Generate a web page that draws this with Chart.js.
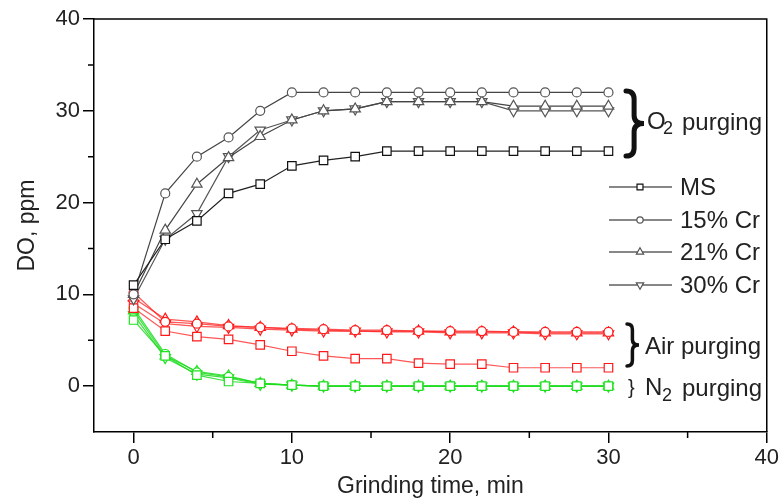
<!DOCTYPE html>
<html>
<head>
<meta charset="utf-8">
<script src="https://cdn.jsdelivr.net/npm/chart.js@4.4.1/dist/chart.umd.min.js"></script>
<style>
  body { margin: 0; background: #fff; }
  #wrap { width: 781px; height: 503px; }
</style>
</head>
<body>
<div id="wrap"><canvas id="doChart" width="781" height="503"></canvas></div>
<script>
// grinding time, min
const grindTime = [0, 2, 4, 6, 8, 10, 12, 14, 16, 18, 20, 22, 24, 26, 28, 30];

// O2 purging
const o2MS    = [11, 16, 18, 21, 22, 24, 24.6, 25, 25.6, 25.6, 25.6, 25.6, 25.6, 25.6, 25.6, 25.6];
const o2Cr15  = [10, 21, 25, 27.1, 30, 32, 32, 32, 32, 32, 32, 32, 32, 32, 32, 32];
const o2Cr21  = [10, 17, 22, 24.9, 27.2, 29, 30, 30.2, 31, 31, 31, 31, 30.5, 30.5, 30.5, 30.5];
const o2Cr30  = [9.5, 16, 18.8, 25, 27.9, 29, 30, 30.2, 31, 31, 31, 31, 30, 30, 30, 30];

// Air purging
const airMS   = [8.5, 6.0, 5.4, 5.1, 4.5, 3.8, 3.3, 3.0, 3.0, 2.5, 2.4, 2.4, 2.0, 2.0, 2.0, 2.0];
const airCr15 = [10.2, 7.0, 6.8, 6.5, 6.4, 6.3, 6.2, 6.1, 6.1, 6.0, 6.0, 6.0, 5.9, 5.9, 5.9, 5.9];
const airCr21 = [9.6, 7.3, 7.0, 6.6, 6.4, 6.2, 6.1, 6.0, 6.0, 6.0, 5.9, 5.9, 5.9, 5.8, 5.8, 5.8];
const airCr30 = [9.0, 6.8, 6.5, 6.4, 6.2, 6.1, 6.0, 6.0, 5.9, 5.9, 5.8, 5.8, 5.8, 5.7, 5.7, 5.7];

// N2 purging
const n2MS    = [7.2, 3.3, 1.2, 0.5, 0.3, 0.1, 0, 0, 0, 0, 0, 0, 0, 0, 0, 0];
const n2Cr15  = [8.5, 3.5, 1.5, 1.0, 0.3, 0.1, 0, 0, 0, 0, 0, 0, 0, 0, 0, 0];
const n2Cr21  = [8.2, 3.3, 1.6, 1.1, 0.3, 0.1, 0, 0, 0, 0, 0, 0, 0, 0, 0, 0];
const n2Cr30  = [7.8, 3.1, 1.3, 0.9, 0.2, 0.1, 0, 0, 0, 0, 0, 0, 0, 0, 0, 0];

// axes
const xTicks = [0, 10, 20, 30, 40];
const xMinor = [5, 15, 25, 35];
const yTicks = [0, 10, 20, 30, 40];
const yMinor = [5, 15, 25, 35];

const legendLabels = ['MS', '15% Cr', '21% Cr', '30% Cr'];

const FONT = '"Liberation Sans", Arial, sans-serif';
const TEXT = '#222';

const markers = [
    { pointStyle: 'rect', radius: 6, rotation: 0 },
    { pointStyle: 'circle', radius: 4.5, rotation: 0 },
    { pointStyle: 'triangle', radius: 6, rotation: 0 },
    { pointStyle: 'triangle', radius: 6, rotation: 180 }
];

function series(label, values, mk, color, lineColor) {
    return {
        label: label,
        data: grindTime.map((t, i) => ({ x: t, y: values[i] })),
        borderColor: lineColor,
        borderWidth: 1.2,
        pointStyle: mk.pointStyle,
        pointRadius: mk.radius,
        pointRotation: mk.rotation,
        pointBorderColor: color,
        pointBorderWidth: 1.2,
        pointBackgroundColor: '#fff',
        tension: 0
    };
}

const RED = '#ff1a1a', RED_LINE = 'rgba(255,30,30,0.75)';
const GREEN = '#22e022', GREEN_LINE = 'rgba(30,220,30,0.85)';

const datasets = [
    series('O2 MS', o2MS, markers[0], '#111', '#222'),
    series('O2 15% Cr', o2Cr15, markers[1], '#555', '#444'),
    series('O2 21% Cr', o2Cr21, markers[2], '#555', '#444'),
    series('O2 30% Cr', o2Cr30, markers[3], '#555', '#555'),
    series('Air MS', airMS, markers[0], RED, RED_LINE),
    series('Air 15% Cr', airCr15, markers[1], RED, RED_LINE),
    series('Air 21% Cr', airCr21, markers[2], RED, RED_LINE),
    series('Air 30% Cr', airCr30, markers[3], RED, RED_LINE),
    series('N2 MS', n2MS, markers[0], GREEN, GREEN_LINE),
    series('N2 15% Cr', n2Cr15, markers[1], GREEN, GREEN_LINE),
    series('N2 21% Cr', n2Cr21, markers[2], GREEN, GREEN_LINE),
    series('N2 30% Cr', n2Cr30, markers[3], GREEN, GREEN_LINE)
];

function brace(ctx, x, y1, y2, w, lw) {
    const ym = (y1 + y2) / 2, xm = x + w * 0.45, r = w * 0.45;
    ctx.save();
    ctx.lineWidth = lw;
    ctx.strokeStyle = '#111';
    ctx.lineCap = 'round';
    ctx.beginPath();
    ctx.moveTo(x, y1);
    ctx.quadraticCurveTo(xm, y1, xm, y1 + r);
    ctx.lineTo(xm, ym - r);
    ctx.quadraticCurveTo(xm, ym, x + w, ym);
    ctx.quadraticCurveTo(xm, ym, xm, ym + r);
    ctx.lineTo(xm, y2 - r);
    ctx.quadraticCurveTo(xm, y2, x, y2);
    ctx.stroke();
    ctx.restore();
}

// frame, minor ticks, legend and the purging notes
const extras = {
    id: 'extras',
    afterDraw(chart) {
        const ctx = chart.ctx;
        const a = chart.chartArea;
        const xs = chart.scales.x, ys = chart.scales.y;
        ctx.save();
        ctx.strokeStyle = '#000';
        ctx.lineWidth = 1.5;
        ctx.beginPath();
        ctx.moveTo(a.left, a.top);
        ctx.lineTo(a.right, a.top);
        ctx.lineTo(a.right, a.bottom);
        ctx.stroke();
        ctx.beginPath();
        xMinor.forEach(v => {
            const px = xs.getPixelForValue(v);
            ctx.moveTo(px, a.bottom);
            ctx.lineTo(px, a.bottom + 6);
        });
        yMinor.forEach(v => {
            const py = ys.getPixelForValue(v);
            ctx.moveTo(a.left, py);
            ctx.lineTo(a.left - 6, py);
        });
        ctx.stroke();

        // legend
        const rows = [187, 220, 252, 285];
        ctx.font = '24px ' + FONT;
        ctx.textBaseline = 'middle';
        legendLabels.forEach((lab, i) => {
            const y = rows[i];
            ctx.strokeStyle = '#111';
            ctx.lineWidth = 1.2;
            ctx.beginPath();
            ctx.moveTo(609, y);
            ctx.lineTo(672, y);
            ctx.stroke();
            ctx.fillStyle = '#fff';
            ctx.strokeStyle = i === 0 ? '#111' : '#555';
            Chart.helpers.drawPoint(ctx, {
                pointStyle: markers[i].pointStyle,
                radius: markers[i].radius * 0.7,
                rotation: markers[i].rotation,
                borderWidth: 1.2
            }, 640, y);
            ctx.fillStyle = TEXT;
            ctx.fillText(lab, 680, y + 1);
        });

        // braces + labels
        brace(ctx, 626, 91, 156, 18, 5);
        brace(ctx, 627, 324, 366, 12, 3.5);
        ctx.fillStyle = TEXT;
        ctx.font = '24px ' + FONT;
        ctx.fillText('O', 647, 122);
        ctx.font = '18px ' + FONT;
        ctx.fillText('2', 663, 129);
        ctx.font = '24px ' + FONT;
        ctx.fillText('purging', 682, 123);
        ctx.fillText('Air purging', 645, 347);
        ctx.font = '20px ' + FONT;
        ctx.fillText('}', 628, 388);
        ctx.font = '24px ' + FONT;
        ctx.fillText('N', 645, 388);
        ctx.font = '18px ' + FONT;
        ctx.fillText('2', 662, 396);
        ctx.font = '24px ' + FONT;
        ctx.fillText('purging', 682, 389);
        ctx.restore();
    }
};

const ctx = document.getElementById('doChart').getContext('2d');
const doChart = new Chart(ctx, {
    type: 'line',
    data: { datasets: datasets },
    options: {
        responsive: false,
        animation: false,
        layout: { padding: { top: 19, right: 13, left: 0, bottom: 0 } },
        plugins: {
            legend: { display: false },
            tooltip: { enabled: false }
        },
        scales: {
            x: {
                type: 'linear',
                min: -2.5,
                max: 40,
                afterBuildTicks: s => { s.ticks = xTicks.map(v => ({ value: v })); },
                afterFit: s => { s.height = 71; },
                grid: { drawOnChartArea: false, drawTicks: true, tickLength: 11, color: '#000', lineWidth: 1.5 },
                border: { display: true, color: '#000', width: 1.5 },
                ticks: { color: TEXT, font: { family: FONT, size: 22 }, padding: 2, maxRotation: 0 },
                title: { display: true, text: 'Grinding time, min', color: TEXT, font: { family: FONT, size: 23 }, padding: { top: 0, bottom: 3 } }
            },
            y: {
                type: 'linear',
                min: -5,
                max: 40,
                afterBuildTicks: s => { s.ticks = yTicks.map(v => ({ value: v })); },
                afterFit: s => { s.width = 94; },
                grid: { drawOnChartArea: false, drawTicks: true, tickLength: 11, color: '#000', lineWidth: 1.5 },
                border: { display: true, color: '#000', width: 1.5 },
                ticks: { color: TEXT, font: { family: FONT, size: 22 }, padding: 3 },
                title: { display: true, text: 'DO, ppm', color: TEXT, font: { family: FONT, size: 23 }, padding: { top: 14, bottom: 0 } }
            }
        }
    },
    plugins: [extras]
});
</script>
</body>
</html>
